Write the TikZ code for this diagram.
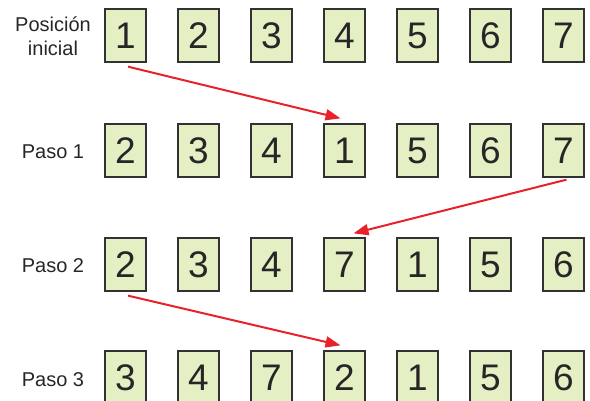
\documentclass[tikz,border=0pt]{standalone}
\usepackage{fontspec}
\setmainfont{Liberation Sans}
\usetikzlibrary{calc,arrows.meta}
\definecolor{boxfill}{RGB}{229,239,196}
\definecolor{boxline}{RGB}{50,50,50}
\definecolor{arrred}{RGB}{232,33,43}
\begin{document}
\begin{tikzpicture}[x=1pt,y=1pt,
  cell/.style={draw=boxline,line width=1.3pt,fill=boxfill,minimum width=41pt,minimum height=53pt,inner sep=0pt,font=\fontsize{37}{37}\selectfont,text=black!85},
  rowlabel/.style={align=center,font=\fontsize{20}{24}\selectfont,text=black!85,inner sep=0pt},
  move/.style={draw=arrred,line width=2pt,-{Triangle[length=15pt,width=11pt]}}]
\useasboundingbox (0,-400) rectangle (590,0);
% rows
\foreach \r/\y/\vals in {0/35.5/{1,2,3,4,5,6,7},1/150.5/{2,3,4,1,5,6,7},2/264.5/{2,3,4,7,1,5,6},3/377.5/{3,4,7,2,1,5,6}}{
  \foreach \v [count=\c] in \vals {
    \node[cell] (r\r c\c) at ({125.5+73*(\c-1)},-\y) {\v};
  }
}
\node[rowlabel] (l0) at (53,-36) {Posición\\inicial};
\node[rowlabel] (l1) at (53,-152) {Paso 1};
\node[rowlabel] (l2) at (53,-266) {Paso 2};
\node[rowlabel] (l3) at (53,-380) {Paso 3};
% arrows
\coordinate (a1s) at ($(r0c1.south)+(2.5,-4)$);
\coordinate (a1e) at ($(r1c4.north)+(-4,5)$);
\coordinate (a2s) at ($(r1c7.south)+(3,-2)$);
\coordinate (a2e) at ($(r2c4.north)+(9,4)$);
\coordinate (a3s) at ($(r2c1.south)+(2.5,-4)$);
\coordinate (a3e) at ($(r3c4.north)+(-4,5)$);
\draw[move] (a1s) -- (a1e);
\draw[move] (a2s) -- (a2e);
\draw[move] (a3s) -- (a3e);
\end{tikzpicture}
\end{document}
